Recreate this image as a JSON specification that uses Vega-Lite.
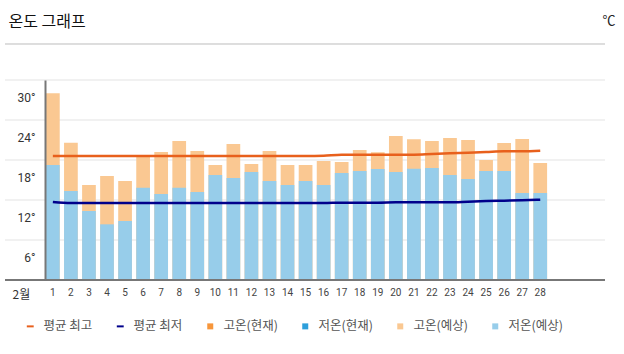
{
  "$schema": "https://vega.github.io/schema/vega-lite/v6.json",
  "autosize": {"type": "none"},
  "width": 600,
  "height": 200,
  "padding": {"left": 5, "top": 80, "right": 19, "bottom": 74},
  "background": "white",
  "config": {
    "view": {"stroke": null},
    "font": "Noto Sans CJK KR"
  },
  "data": {
    "values": [
      {"day": 1, "high": 28.0, "low": 17.25, "avgHigh": 18.6, "avgLow": 11.7},
      {"day": 2, "high": 20.6, "low": 13.35, "avgHigh": 18.6, "avgLow": 11.55},
      {"day": 3, "high": 14.25, "low": 10.35, "avgHigh": 18.6, "avgLow": 11.55},
      {"day": 4, "high": 15.6, "low": 8.35, "avgHigh": 18.6, "avgLow": 11.55},
      {"day": 5, "high": 14.85, "low": 8.85, "avgHigh": 18.6, "avgLow": 11.55},
      {"day": 6, "high": 18.6, "low": 13.85, "avgHigh": 18.6, "avgLow": 11.55},
      {"day": 7, "high": 19.2, "low": 12.9, "avgHigh": 18.6, "avgLow": 11.55},
      {"day": 8, "high": 20.85, "low": 13.85, "avgHigh": 18.6, "avgLow": 11.55},
      {"day": 9, "high": 19.35, "low": 13.2, "avgHigh": 18.6, "avgLow": 11.55},
      {"day": 10, "high": 17.25, "low": 15.75, "avgHigh": 18.6, "avgLow": 11.55},
      {"day": 11, "high": 20.4, "low": 15.3, "avgHigh": 18.6, "avgLow": 11.55},
      {"day": 12, "high": 17.4, "low": 16.2, "avgHigh": 18.6, "avgLow": 11.55},
      {"day": 13, "high": 19.35, "low": 14.85, "avgHigh": 18.6, "avgLow": 11.55},
      {"day": 14, "high": 17.25, "low": 14.25, "avgHigh": 18.6, "avgLow": 11.55},
      {"day": 15, "high": 17.25, "low": 14.85, "avgHigh": 18.6, "avgLow": 11.55},
      {"day": 16, "high": 17.85, "low": 14.25, "avgHigh": 18.65, "avgLow": 11.55},
      {"day": 17, "high": 17.7, "low": 16.05, "avgHigh": 18.8, "avgLow": 11.6},
      {"day": 18, "high": 19.5, "low": 16.35, "avgHigh": 18.8, "avgLow": 11.6},
      {"day": 19, "high": 19.15, "low": 16.65, "avgHigh": 18.8, "avgLow": 11.6},
      {"day": 20, "high": 21.6, "low": 16.2, "avgHigh": 18.8, "avgLow": 11.65},
      {"day": 21, "high": 21.1, "low": 16.7, "avgHigh": 18.8, "avgLow": 11.65},
      {"day": 22, "high": 20.85, "low": 16.8, "avgHigh": 18.9, "avgLow": 11.65},
      {"day": 23, "high": 21.3, "low": 15.75, "avgHigh": 19.0, "avgLow": 11.65},
      {"day": 24, "high": 21.0, "low": 15.15, "avgHigh": 19.1, "avgLow": 11.75},
      {"day": 25, "high": 18.0, "low": 16.35, "avgHigh": 19.2, "avgLow": 11.85},
      {"day": 26, "high": 20.55, "low": 16.35, "avgHigh": 19.3, "avgLow": 11.9},
      {"day": 27, "high": 21.15, "low": 13.05, "avgHigh": 19.3, "avgLow": 11.95},
      {"day": 28, "high": 17.55, "low": 13.05, "avgHigh": 19.4, "avgLow": 12.05}
    ]
  },
  "resolve": {"axis": {"x": "independent", "y": "independent"}},
  "layer": [
    {
      "data": {"values": [{"g": 6}, {"g": 12}, {"g": 18}, {"g": 24}, {"g": 30}]},
      "mark": {"type": "rule", "color": "#ececec", "strokeWidth": 1.5},
      "encoding": {
        "y": {
          "field": "g",
          "type": "quantitative",
          "scale": {"domain": [0, 30], "nice": false, "zero": true},
          "axis": {
            "orient": "left",
            "grid": false,
            "domain": false,
            "ticks": false,
            "labels": false,
            "title": "온도 그래프",
            "titleAngle": 0,
            "titleFont": "Noto Sans CJK KR",
            "titleFontSize": 16,
            "titleFontWeight": "normal",
            "titleColor": "#111111",
            "titleX": 3,
            "titleY": -54,
            "titleAlign": "left",
            "titleBaseline": "alphabetic",
            "titleAnchor": null
          }
        }
      }
    },
    {
      "mark": {"type": "rule", "color": "#dddddd", "strokeWidth": 1},
      "encoding": {
        "y": {"datum": 35.4, "type": "quantitative", "axis": null}
      }
    },
    {
      "mark": {"type": "bar"},
      "encoding": {
        "x": {
          "field": "day",
          "type": "ordinal",
          "sort": null,
          "scale": {"type": "band", "range": [41, 542.1], "paddingInner": 0.24, "paddingOuter": 0},
          "axis": {
            "orient": "bottom",
            "labelAngle": 0,
            "labelFont": "Roboto",
            "labelFontSize": 10,
            "labelColor": "#444444",
            "labelPadding": 7,
            "ticks": false,
            "domain": false,
            "grid": false,
            "title": "2월",
            "titleFont": "Noto Sans CJK KR",
            "titleFontSize": 12,
            "titleFontWeight": "normal",
            "titleColor": "#333333",
            "titleX": 7,
            "titleY": 18,
            "titleAlign": "left",
            "titleBaseline": "alphabetic",
            "titleAnchor": null
          }
        },
        "y": {"field": "high", "type": "quantitative", "axis": null},
        "color": {
          "datum": "고온(예상)",
          "scale": {
            "domain": ["평균 최고", "평균 최저", "고온(현재)", "저온(현재)", "고온(예상)", "저온(예상)"],
            "range": ["#e8601c", "#00008b", "#f7963b", "#2e9fdb", "#fac892", "#97cdea"]
          },
          "legend": {
            "title": null,
            "orient": "none",
            "direction": "horizontal",
            "legendX": 19,
            "legendY": 240,
            "padding": 0,
            "symbolSize": 36,
            "labelFont": "Noto Sans CJK KR",
            "labelFontSize": 12.5,
            "labelColor": "#555555",
            "labelOffset": 7,
            "columnPadding": 21,
            "encode": {
              "symbols": {
                "update": {
                  "shape": {"signal": "datum.value === '평균 최고' || datum.value === '평균 최저' ? 'M-1.15,-0.33H1.15V0.33H-1.15Z' : 'square'"},
                  "fill": {"signal": "scale('color', datum.value)"},
                  "stroke": {"value": "transparent"},
                  "strokeWidth": {"value": 0},
                  "opacity": {"value": 1}
                }
              }
            }
          }
        }
      }
    },
    {
      "mark": {"type": "bar"},
      "encoding": {
        "x": {"field": "day", "type": "ordinal", "sort": null, "axis": null},
        "y": {"field": "low", "type": "quantitative", "axis": null},
        "color": {"datum": "저온(예상)"}
      }
    },
    {
      "mark": {"type": "rule", "color": "#777777", "strokeWidth": 2},
      "encoding": {
        "y": {"datum": 0, "type": "quantitative", "axis": null}
      }
    },
    {
      "mark": {"type": "line", "strokeWidth": 2.5, "interpolate": "monotone"},
      "encoding": {
        "x": {"field": "day", "type": "ordinal", "sort": null, "axis": null},
        "y": {
          "field": "avgHigh",
          "type": "quantitative",
          "axis": {
            "orient": "left",
            "offset": -40,
            "zindex": 1,
            "values": [0, 6, 12, 18, 24, 30],
            "grid": false,
            "ticks": false,
            "domainColor": "#777777",
            "domainWidth": 2,
            "labelExpr": "datum.value == 0 ? '' : datum.value + '°'",
            "labelOffset": 17,
            "labelPadding": 10,
            "labelFont": "Roboto",
            "labelFontSize": 12,
            "labelColor": "#333333",
            "title": "℃",
            "titleAngle": 0,
            "titleX": 557,
            "titleY": -60,
            "titleAlign": "left",
            "titleBaseline": "middle",
            "titleFont": "Noto Sans CJK KR",
            "titleFontSize": 13,
            "titleFontWeight": "normal",
            "titleColor": "#222222"
          }
        },
        "color": {"datum": "평균 최고"}
      }
    },
    {
      "mark": {"type": "line", "strokeWidth": 2.5, "interpolate": "monotone"},
      "encoding": {
        "x": {"field": "day", "type": "ordinal", "sort": null, "axis": null},
        "y": {"field": "avgLow", "type": "quantitative", "axis": null},
        "color": {"datum": "평균 최저"}
      }
    }
  ]
}
